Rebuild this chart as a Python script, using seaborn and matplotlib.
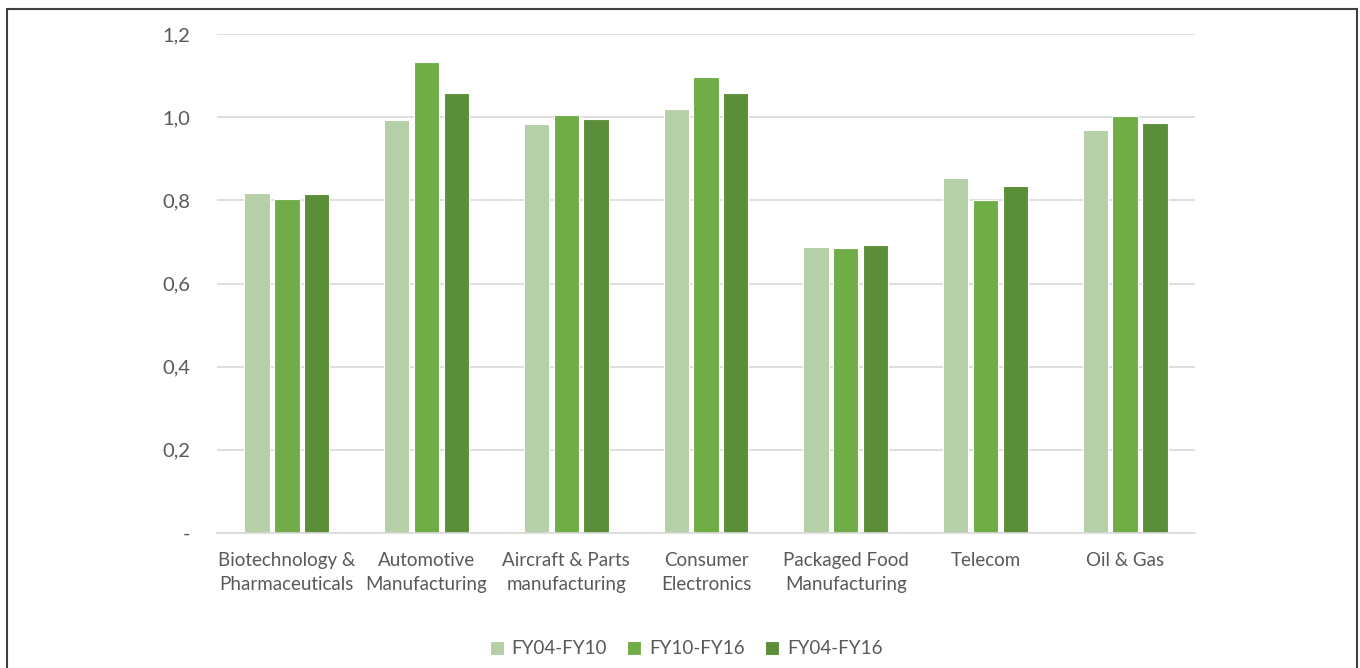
import matplotlib
matplotlib.use("Agg")
import matplotlib.pyplot as plt
from matplotlib.patches import Rectangle
import seaborn as sns
import pandas as pd

categories = ["Biotechnology &\nPharmaceuticals", "Automotive\nManufacturing",
              "Aircraft & Parts\nmanufacturing", "Consumer\nElectronics",
              "Packaged Food\nManufacturing", "Telecom", "Oil & Gas"]
series = ["FY04-FY10", "FY10-FY16", "FY04-FY16"]
fy04_fy10 = [0.817, 0.993, 0.983, 1.019, 0.688, 0.853, 0.969]
fy10_fy16 = [0.803, 1.132, 1.005, 1.096, 0.685, 0.800, 1.002]
fy04_fy16 = [0.815, 1.058, 0.995, 1.058, 0.692, 0.834, 0.986]
colors = ["#B5CFA7", "#70AD47", "#5B8E38"]
yticks = [0, 0.2, 0.4, 0.6, 0.8, 1.0, 1.2]
ytick_labels = ["-", "0,2", "0,4", "0,6", "0,8", "1,0", "1,2"]

df = pd.DataFrame({
    "category": categories * 3,
    "series": [s for s in series for _ in categories],
    "value": fy04_fy10 + fy10_fy16 + fy04_fy16,
})

sns.set_style("white")
plt.rcParams["font.family"] = ["Lato", "DejaVu Sans"]
text_color = "#595959"

fig = plt.figure(figsize=(13.6, 6.68), dpi=100)
ax = fig.add_axes([217 / 1360, 1 - 533 / 668, (1195 - 217) / 1360, (533 - 34) / 668])

sns.barplot(data=df, x="category", y="value", hue="series", order=categories,
            hue_order=series, palette=colors, saturation=1, width=0.64, gap=0.15,
            edgecolor="white", linewidth=0.8, ax=ax, legend=True)

ax.set_ylim(0, 1.2)
ax.set_xlim(-0.5, len(categories) - 0.5)
ax.set_yticks(yticks)
ax.set_yticklabels(ytick_labels)
ax.yaxis.grid(True, color="#D9D9D9", linewidth=1.2)
ax.set_axisbelow(True)
for side in ["top", "right", "left"]:
    ax.spines[side].set_visible(False)
ax.spines["bottom"].set_color("#D9D9D9")
ax.spines["bottom"].set_linewidth(1.2)
ax.tick_params(axis="both", length=0, colors=text_color)
ax.tick_params(axis="y", pad=19, labelsize=14.5)
ax.tick_params(axis="x", pad=14, labelsize=13.5)
for lbl in ax.get_xticklabels():
    lbl.set_linespacing(1.5)
ax.set_xlabel("")
ax.set_ylabel("")

handles, labels = ax.get_legend_handles_labels()
ax.get_legend().remove()
fig.legend(handles, labels, loc="center", bbox_to_anchor=(686 / 1360, 1 - 649 / 668),
           ncol=3, frameon=False, fontsize=13.5, labelcolor=text_color,
           handlelength=0.75, handleheight=0.75, handletextpad=0.4, columnspacing=1.1)

fig.patches.append(Rectangle((7 / 1360, -0.01), (1357 - 7) / 1360, 1 - 9 / 668 + 0.01,
                             transform=fig.transFigure, fill=False,
                             edgecolor="#404040", linewidth=1.5))

fig.savefig("out.png", dpi=100)
